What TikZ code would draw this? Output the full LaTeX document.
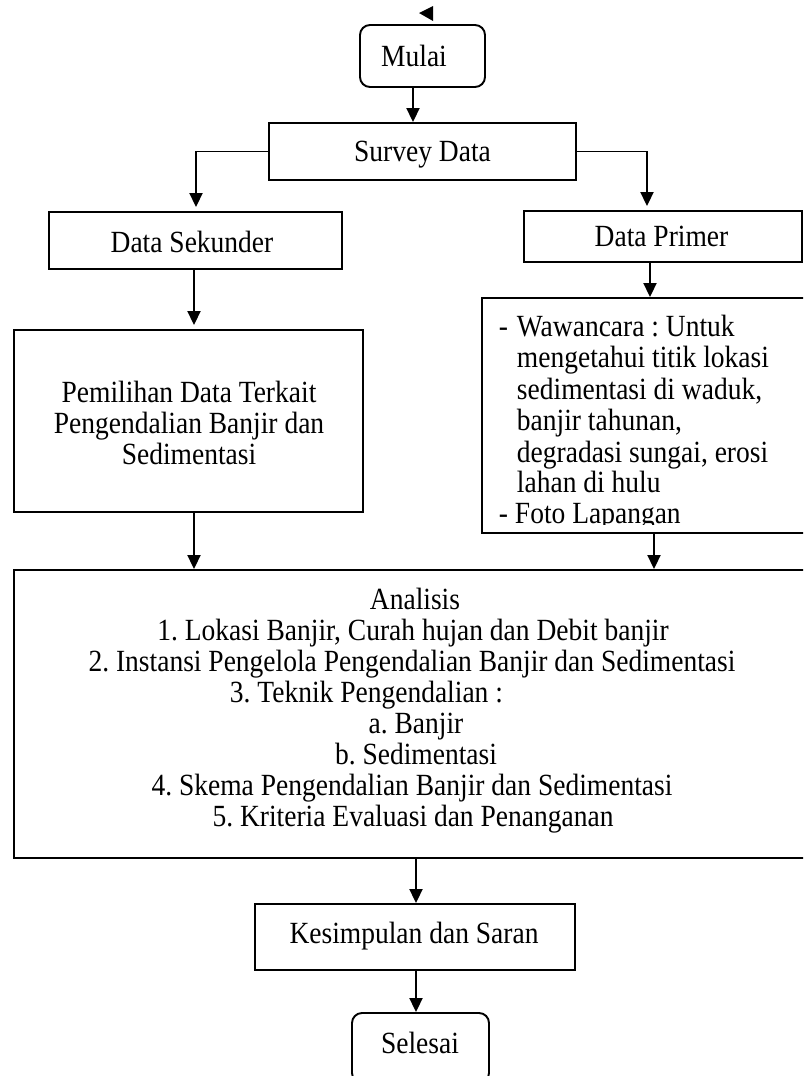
\documentclass[tikz,border=0pt]{standalone}
\usepackage{fontspec}
\usepackage{graphicx}
\setmainfont{Liberation Serif}
\usetikzlibrary{arrows.meta}
\frenchspacing
\newcommand{\vst}[1]{\scalebox{1}[1.12]{#1}}
\begin{document}
\begin{tikzpicture}[x=1pt,y=-1pt,line width=1.9pt,
  box/.style={draw,rectangle,inner sep=0pt,align=center},
  rbox/.style={box,rounded corners=10pt},
  txt/.style={inner sep=0pt,anchor=base},
  txtw/.style={inner sep=0pt,anchor=base west},
  arr/.style={-{Triangle[width=13pt,length=14pt]}},
  every node/.append style={font=\fontsize{27.5}{31}\selectfont\frenchspacing}]
\useasboundingbox (0,0) rectangle (803,1076);
\clip (0,0) rectangle (803,1076);

% stray arrowhead at top
\fill (419,13) -- (433,6) -- (433,21) -- cycle;

% boxes
\node[rbox,minimum width=125pt,minimum height=62pt] (mulai) at (422.5,56) {};
\node[txt] (mulaitxt) at (414,66) {\vst{Mulai}};
\node[box,minimum width=307pt,minimum height=57pt] (survey) at (422.5,151.5) {};
\node[txt] (surveytxt) at (422.5,161) {\vst{Survey Data}};
\node[box,minimum width=293pt,minimum height=57pt] (sek) at (195.5,240.5) {};
\node[txt] (sektxt) at (192,252) {\vst{Data Sekunder}};
\node[box,minimum width=278pt,minimum height=51pt] (prim) at (663,236.5) {};
\node[txt] (primtxt) at (661.5,246) {\vst{Data Primer}};
\node[box,minimum width=349pt,minimum height=182pt] (pem) at (188.5,421) {};
\node[txt] (p1) at (189,402) {\vst{Pemilihan Data Terkait}};
\node[txt] (p2) at (189,433) {\vst{Pengendalian Banjir dan}};
\node[txt] (p3) at (189,464) {\vst{Sedimentasi}};
\node[box,minimum width=326pt,minimum height=235pt] (waw) at (645,415.5) {};
\begin{scope}
  \clip (482,298) rectangle (808,524);
  \node[txtw] (w1) at (498,336) {\vst{\makebox[18pt][l]{-}Wawancara : Untuk}};
  \node[txtw] (w2) at (516,367) {\vst{mengetahui titik lokasi}};
  \node[txtw] (w3) at (516,399) {\vst{sedimentasi di waduk,}};
  \node[txtw] (w4) at (516,430) {\vst{banjir tahunan,}};
  \node[txtw] (w5) at (516,462) {\vst{degradasi sungai, erosi}};
  \node[txtw] (w6) at (516,492) {\vst{lahan di hulu}};
  \node[txtw] (w7) at (498,523) {\vst{- Foto Lapangan}};
\end{scope}
\node[box,minimum width=794pt,minimum height=288pt] (ana) at (411,714) {};
\node[txt] (a0) at (415,609) {\vst{Analisis}};
\node[txt] (a1) at (413,640) {\vst{1. Lokasi Banjir, Curah hujan dan Debit banjir}};
\node[txt] (a2) at (412,671) {\vst{2. Instansi Pengelola Pengendalian Banjir dan Sedimentasi}};
\node[txtw] (a3) at (229,702) {\vst{3. Teknik Pengendalian :}};
\node[txt] (a4) at (416,733) {\vst{a. Banjir}};
\node[txt] (a5) at (416,764) {\vst{b. Sedimentasi}};
\node[txt] (a6) at (412,795) {\vst{4. Skema Pengendalian Banjir dan Sedimentasi}};
\node[txt] (a7) at (413,826) {\vst{5. Kriteria Evaluasi dan Penanganan}};
\node[box,minimum width=320pt,minimum height=66pt] (kes) at (415,937) {};
\node[txt] (kestxt) at (414,943) {\vst{Kesimpulan dan Saran}};
\node[rbox,minimum width=137pt,minimum height=70pt] (sel) at (420.5,1048) {};
\node[txt] (seltxt) at (420,1053) {\vst{Selesai}};

% connector x positions
\coordinate (c413) at (413,0);
\coordinate (c196) at (196,0);
\coordinate (c647) at (647,0);
\coordinate (c194) at (194,0);
\coordinate (c650) at (650,0);
\coordinate (c654) at (654,0);
\coordinate (c416) at (416,0);

% connectors
\draw[arr] (mulai.south -| c413) -- (survey.north -| c413);
\draw[arr,shorten >=4pt] (survey.west) -| (sek.north -| c196);
\draw[arr,shorten >=4pt] (survey.east) -| (prim.north -| c647);
\draw[arr,shorten >=4pt] (sek.south -| c194) -- (pem.north -| c194);
\draw[arr] (prim.south -| c650) -- (waw.north -| c650);
\draw[arr] (pem.south -| c194) -- (ana.north -| c194);
\draw[arr] (waw.south -| c654) -- (ana.north -| c654);
\draw[arr] (ana.south -| c416) -- (kes.north -| c416);
\draw[arr] (kes.south -| c416) -- (sel.north -| c416);
\end{tikzpicture}
\end{document}
